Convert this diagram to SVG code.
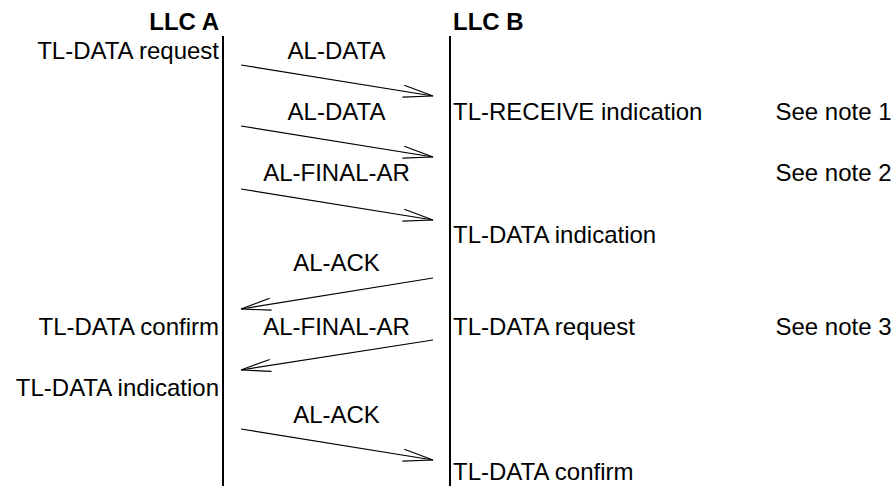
<svg xmlns="http://www.w3.org/2000/svg" width="893" height="486" viewBox="0 0 893 486">
<style>
text{font-family:"Liberation Sans",Arial,sans-serif;font-size:24px;fill:#000}
.b{font-weight:bold}
.e{text-anchor:end}
.m{text-anchor:middle}
.life{stroke:#000;stroke-width:2;fill:none}
.msg{stroke:#000;stroke-width:1.2;fill:none;marker-end:url(#ah)}
</style>
<defs>
<marker id="ah" markerUnits="userSpaceOnUse" orient="auto" markerWidth="40" markerHeight="20" refX="0" refY="0" viewBox="-32 -10 40 20" overflow="visible">
<path d="M-30,-6 L0,0 L-30,6" fill="none" stroke="#000" stroke-width="1.2"/>
</marker>
</defs>
<g id="llcA">
<text class="b e" x="219" y="30">LLC A</text>
<line class="life" x1="223" y1="36" x2="223" y2="486"/>
</g>
<g id="llcB">
<text class="b" x="453" y="30">LLC B</text>
<line class="life" x1="450" y1="36" x2="450" y2="486"/>
</g>
<g id="labelsA">
<text class="e" x="219" y="59">TL-DATA request</text>
<text class="e" x="219" y="335">TL-DATA confirm</text>
<text class="e" x="219" y="396">TL-DATA indication</text>
</g>
<g id="labelsB">
<text x="453" y="120">TL-RECEIVE indication</text>
<text x="453" y="243">TL-DATA indication</text>
<text x="453" y="335">TL-DATA request</text>
<text x="453" y="480">TL-DATA confirm</text>
</g>
<g id="notes">
<text x="775.5" y="120">See note 1</text>
<text x="775.5" y="181">See note 2</text>
<text x="775.5" y="335">See note 3</text>
</g>
<g id="connectors">
<line class="msg" x1="241" y1="65" x2="433" y2="96"/>
<line class="msg" x1="241" y1="126" x2="433" y2="157"/>
<line class="msg" x1="241" y1="189" x2="433" y2="220"/>
<line class="msg" x1="433" y1="278" x2="241" y2="309"/>
<line class="msg" x1="433" y1="340" x2="241" y2="370"/>
<line class="msg" x1="241" y1="429" x2="433" y2="460"/>
<text class="m" x="336.5" y="59">AL-DATA</text>
<text class="m" x="336.5" y="120">AL-DATA</text>
<text class="m" x="336.5" y="181">AL-FINAL-AR</text>
<text class="m" x="336.5" y="271">AL-ACK</text>
<text class="m" x="336.5" y="335">AL-FINAL-AR</text>
<text class="m" x="336.5" y="423">AL-ACK</text>
</g>
</svg>
